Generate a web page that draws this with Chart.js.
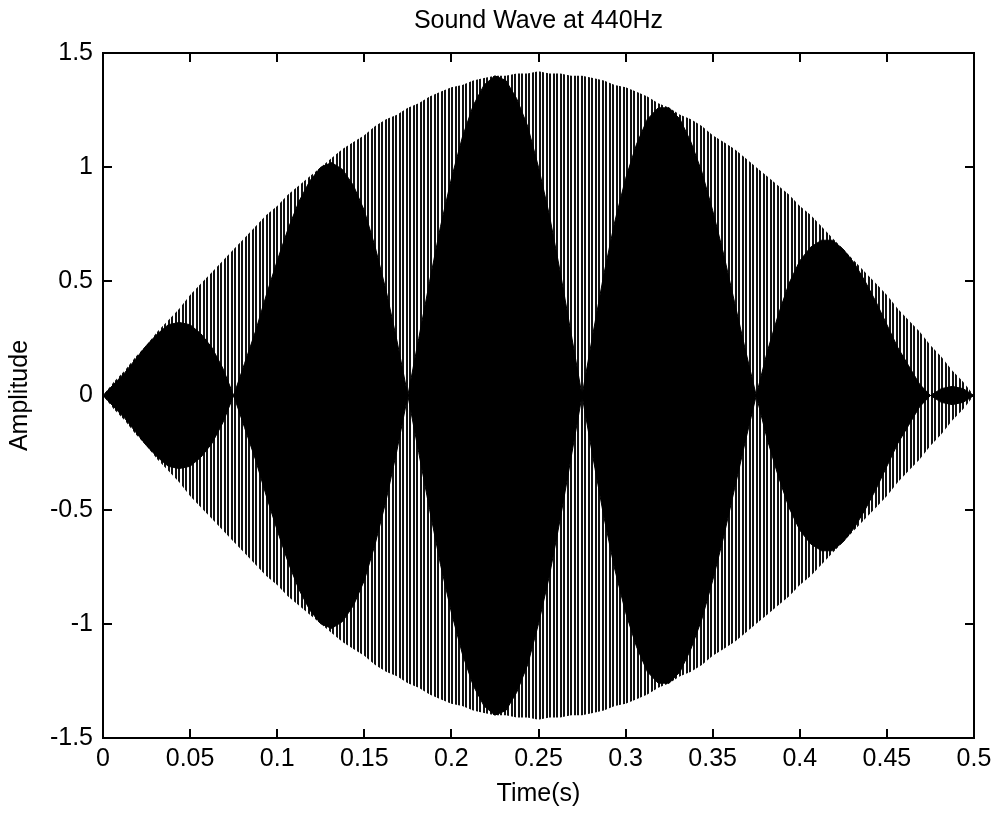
<!DOCTYPE html>
<html>
<head>
<meta charset="utf-8">
<title>Sound Wave at 440Hz</title>
<script src="https://cdn.jsdelivr.net/npm/chart.js@4/dist/chart.umd.min.js"></script>
<style>
  html, body { margin: 0; padding: 0; background: #fff; }
  #wrap { width: 995px; height: 814px; }
</style>
</head>
<body>
<div id="wrap"><canvas id="waveChart" width="995" height="814"></canvas></div>
<script>
// outer amplitude envelope of the 440Hz tone, one value every 1/160 s
const outerEnvelope = [
    0, 0.06, 0.11, 0.17, 0.22, 0.28, 0.33, 0.38, 0.44, 0.49,
    0.54, 0.59, 0.64, 0.69, 0.74, 0.79, 0.83, 0.88, 0.92, 0.96,
    1.00, 1.04, 1.08, 1.11, 1.14, 1.18, 1.21, 1.23, 1.26, 1.28,
    1.31, 1.33, 1.35, 1.36, 1.38, 1.39, 1.40, 1.40, 1.41, 1.41,
    1.42, 1.41, 1.41, 1.40, 1.40, 1.39, 1.38, 1.36, 1.35, 1.33,
    1.31, 1.28, 1.26, 1.23, 1.21, 1.18, 1.14, 1.11, 1.08, 1.04,
    1.00, 0.96, 0.92, 0.88, 0.83, 0.79, 0.74, 0.69, 0.64, 0.59,
    0.54, 0.49, 0.44, 0.38, 0.33, 0.28, 0.22, 0.17, 0.11, 0.06,
    0
];

// solid beat lobes inside the envelope, same sampling
const beatEnvelope = [
    0, 0.05, 0.10, 0.16, 0.22, 0.27, 0.31, 0.32, 0.31, 0.27,
    0.21, 0.12, 0, 0.14, 0.28, 0.44, 0.59, 0.73, 0.85, 0.94,
    1.00, 1.02, 0.99, 0.92, 0.81, 0.65, 0.46, 0.24, 0, 0.25,
    0.50, 0.74, 0.95, 1.13, 1.27, 1.36, 1.40, 1.38, 1.30, 1.18,
    1.00, 0.79, 0.54, 0.27, 0, 0.27, 0.53, 0.76, 0.95, 1.10,
    1.21, 1.26, 1.26, 1.21, 1.11, 0.98, 0.81, 0.62, 0.41, 0.20,
    0, 0.19, 0.35, 0.49, 0.59, 0.65, 0.68, 0.68, 0.64, 0.58,
    0.50, 0.41, 0.31, 0.21, 0.13, 0.05, 0, 0.03, 0.04, 0.03,
    0
];

const timeTicks = [0, 0.05, 0.1, 0.15, 0.2, 0.25, 0.3, 0.35, 0.4, 0.45, 0.5];
const ampTicks = [-1.5, -1, -0.5, 0, 0.5, 1, 1.5];

const sampleRate = 160;
const times = outerEnvelope.map((_, i) => i / sampleRate);
const toPoints = (vals, sign) => vals.map((v, i) => ({ x: times[i], y: sign * v }));

const FONT = '"Liberation Sans", Arial, Helvetica, sans-serif';
const textFont = { family: FONT, size: 25, weight: 'normal', lineHeight: 1 };

const ctx = document.getElementById('waveChart').getContext('2d');

// thin vertical stripes for the dense oscillation area
const tile = document.createElement('canvas');
tile.width = 7;
tile.height = 1;
const tctx = tile.getContext('2d');
tctx.fillStyle = '#111';
tctx.fillRect(0, 0, 7, 1);
tctx.fillStyle = '#fff';
tctx.fillRect(2, 0, 1, 1);
tctx.fillRect(5, 0, 2, 1);
const stripes = ctx.createPattern(tile, 'repeat');

// box around the axes with inward tick marks on all four sides
const axesBox = {
    id: 'axesBox',
    afterDraw(chart) {
        const { ctx, chartArea: a, scales: { x, y } } = chart;
        const len = 9;
        ctx.save();
        ctx.strokeStyle = '#000';
        ctx.lineWidth = 2;
        ctx.strokeRect(a.left, a.top, a.right - a.left, a.bottom - a.top);
        ctx.beginPath();
        timeTicks.forEach(t => {
            const px = Math.round(x.getPixelForValue(t));
            ctx.moveTo(px, a.bottom); ctx.lineTo(px, a.bottom - len);
            ctx.moveTo(px, a.top); ctx.lineTo(px, a.top + len);
        });
        ampTicks.forEach(v => {
            const py = Math.round(y.getPixelForValue(v));
            ctx.moveTo(a.left, py); ctx.lineTo(a.left + len, py);
            ctx.moveTo(a.right, py); ctx.lineTo(a.right - len, py);
        });
        ctx.stroke();
        ctx.restore();
    }
};

const fmt = v => String(Number(v.toFixed(3)));

new Chart(ctx, {
    type: 'line',
    data: {
        datasets: [
            {
                data: toPoints(beatEnvelope, 1),
                fill: '+1',
                backgroundColor: '#000',
                borderColor: '#000',
                borderWidth: 1,
                pointRadius: 0,
                order: 0
            },
            {
                data: toPoints(beatEnvelope, -1),
                fill: false,
                borderColor: '#000',
                borderWidth: 1,
                pointRadius: 0,
                order: 0
            },
            {
                data: toPoints(outerEnvelope, 1),
                fill: '+1',
                backgroundColor: stripes,
                borderColor: 'rgba(0,0,0,0)',
                borderWidth: 0,
                pointRadius: 0,
                order: 1
            },
            {
                data: toPoints(outerEnvelope, -1),
                fill: false,
                borderColor: 'rgba(0,0,0,0)',
                borderWidth: 0,
                pointRadius: 0,
                order: 1
            }
        ]
    },
    options: {
        responsive: false,
        animation: false,
        layout: { padding: { left: 0, right: 21, top: 0, bottom: 0 } },
        plugins: {
            legend: { display: false },
            tooltip: { enabled: false },
            title: {
                display: true,
                text: 'Sound Wave at 440Hz',
                fullSize: false,
                color: '#000',
                font: textFont,
                padding: { top: 9, bottom: 19 }
            }
        },
        scales: {
            x: {
                type: 'linear',
                min: 0,
                max: 0.5,
                afterFit: s => { s.height = 76; s.paddingLeft = 0; s.paddingRight = 0; },
                afterBuildTicks: s => { s.ticks = timeTicks.map(v => ({ value: v })); },
                grid: { display: false, drawTicks: false },
                border: { display: false },
                ticks: {
                    autoSkip: false,
                    maxRotation: 0,
                    padding: 9,
                    color: '#000',
                    font: textFont,
                    callback: fmt
                },
                title: {
                    display: true,
                    text: 'Time(s)',
                    color: '#000',
                    font: textFont,
                    padding: { top: 0, bottom: 7 }
                }
            },
            y: {
                min: -1.5,
                max: 1.5,
                afterFit: s => { s.width = 103; s.paddingTop = 0; s.paddingBottom = 0; },
                afterBuildTicks: s => { s.ticks = ampTicks.map(v => ({ value: v })); },
                grid: { display: false, drawTicks: false },
                border: { display: false },
                ticks: {
                    padding: 10,
                    color: '#000',
                    font: textFont,
                    callback: fmt
                },
                title: {
                    display: true,
                    text: 'Amplitude',
                    color: '#000',
                    font: textFont,
                    padding: { top: 8, bottom: 0 }
                }
            }
        }
    },
    plugins: [axesBox]
});
</script>
</body>
</html>
